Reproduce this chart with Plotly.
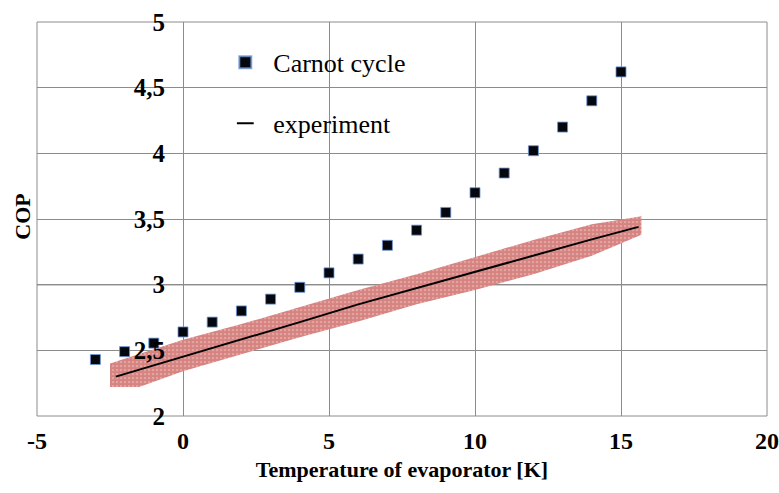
import plotly.graph_objects as go

# ---- data ----
carnot_t = [-3, -2, -1, 0, 1, 2, 3, 4, 5, 6, 7, 8, 9, 10, 11, 12, 13, 14, 15]
carnot_cop = [2.43, 2.49, 2.555, 2.64, 2.715, 2.80, 2.89, 2.98, 3.09, 3.195,
              3.30, 3.415, 3.55, 3.70, 3.85, 4.02, 4.20, 4.40, 4.62]

exp_t = [-2.3, 0, 2, 4, 6, 8, 10, 12, 14, 15.6]
exp_cop = [2.30, 2.45, 2.58, 2.715, 2.85, 2.975, 3.10, 3.22, 3.345, 3.44]

# envelope of the cloud of measured points
cloud_t = [-2.5, -1.5, 0, 2, 4, 6, 8, 10, 12, 14, 15.7]
cloud_upper = [2.40, 2.47, 2.58, 2.70, 2.83, 2.96, 3.08, 3.21, 3.34, 3.46, 3.52]
cloud_lower = [2.22, 2.22, 2.34, 2.47, 2.60, 2.72, 2.85, 2.96, 3.08, 3.22, 3.38]

x_ticks = [-5, 0, 5, 10, 15, 20]
y_ticks = [2, 2.5, 3, 3.5, 4, 4.5, 5]

SERIF = "Liberation Serif"

fig = go.Figure()

# cloud of measurements
fig.add_trace(go.Scatter(
    x=cloud_t + cloud_t[::-1],
    y=cloud_upper + cloud_lower[::-1],
    mode="lines", fill="toself",
    line=dict(width=0, color="rgba(0,0,0,0)"),
    fillcolor="#d9807b",
    fillpattern=dict(shape=".", size=4, solidity=0.8,
                     fgcolor="#c0504d", bgcolor="#ecb9b6"),
    showlegend=False, hoverinfo="skip",
))

# experiment fit line
fig.add_trace(go.Scatter(
    x=exp_t, y=exp_cop, mode="lines",
    line=dict(color="black", width=2),
    name="experiment", legendgroup="exp", showlegend=False,
))

# Carnot cycle
fig.add_trace(go.Scatter(
    x=carnot_t, y=carnot_cop, mode="markers",
    marker=dict(symbol="square", size=10, color="#05070f",
                line=dict(color="rgba(110,150,215,0.8)", width=1)),
    name="Carnot cycle", legendgroup="carnot",
))

# legend proxy for experiment (short dash)
fig.add_trace(go.Scatter(
    x=[None], y=[None], mode="markers",
    marker=dict(symbol="line-ew", size=13, color="black",
                line=dict(color="black", width=3)),
    name="experiment", legendgroup="exp",
))

fig.update_layout(
    width=779, height=493,
    margin=dict(l=37, r=12, t=22, b=77),
    paper_bgcolor="white", plot_bgcolor="white",
    separators=", ",
    font=dict(family=SERIF, color="black"),
    showlegend=True,
    legend=dict(
        x=0.247, y=0.957, xanchor="left", yanchor="top",
        font=dict(family=SERIF, size=26, color="black"),
        bgcolor="rgba(0,0,0,0)", borderwidth=0,
        traceorder="grouped", tracegroupgap=24,
        itemsizing="constant", itemwidth=46,
    ),
    xaxis=dict(
        range=[-5, 20], tickvals=x_ticks, ticktext=[str(v) for v in x_ticks],
        showgrid=True, gridcolor="#8c8c8c", gridwidth=1,
        zeroline=False, showline=False, ticks="",
        automargin=False, ticklabeloverflow="allow",
        ticklabelstandoff=8,
        tickfont=dict(family=SERIF, size=24, color="black", weight="bold"),
        title=dict(text="Temperature of evaporator [K]", standoff=8,
                   font=dict(family=SERIF, size=22, color="black", weight="bold")),
    ),
    yaxis=dict(
        range=[2, 5], tickvals=y_ticks,
        anchor="free", position=0.2,
        showgrid=True, gridcolor="#8c8c8c", gridwidth=1,
        zeroline=False, showline=False, ticks="",
        automargin=False, ticklabeloverflow="allow",
        ticklabelstandoff=18,
        tickfont=dict(family=SERIF, size=25, color="black", weight="bold"),
    ),
    shapes=[
        dict(type="rect", xref="paper", yref="paper", x0=0, y0=0, x1=1, y1=1,
             line=dict(color="#8c8c8c", width=1), layer="below"),
        dict(type="line", xref="paper", yref="y", x0=0, x1=1, y0=3, y1=3,
             line=dict(color="#3a3a3a", width=1.3), layer="below"),
    ],
    annotations=[
        dict(text="COP", textangle=-90, xref="paper", yref="paper",
             x=-0.021, y=0.505, xanchor="center", yanchor="middle",
             showarrow=False,
             font=dict(family=SERIF, size=22, color="black", weight="bold")),
    ],
)

# remove the browser's default 8 px page margin so the figure fills the window
fig.write_html("out.html", config={"displayModeBar": False},
               post_script="document.body.style.margin='0';")
